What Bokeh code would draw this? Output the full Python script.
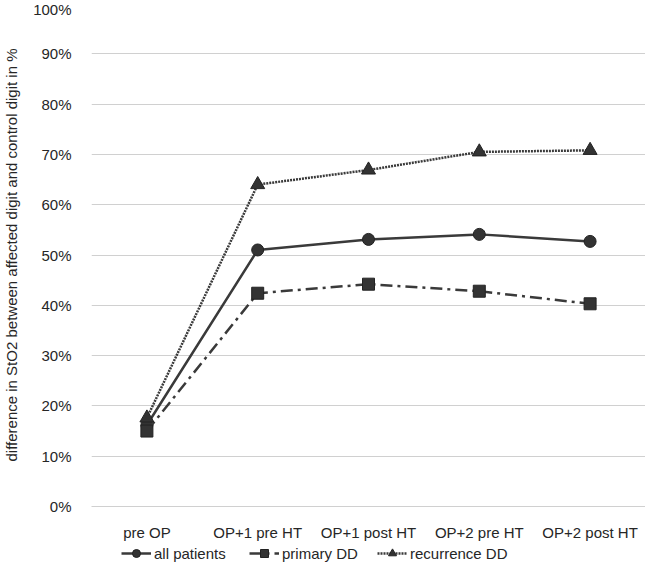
from bokeh.plotting import figure
from bokeh.layouts import column
from bokeh.models import FactorRange, Range1d, PrintfTickFormatter, Legend, LegendItem, FixedTicker
from bokeh.embed import file_html
from bokeh.resources import INLINE

categories = ["pre OP", "OP+1 pre HT", "OP+1 post HT", "OP+2 pre HT", "OP+2 post HT"]
all_patients = [16.2, 51.0, 53.1, 54.1, 52.7]
primary_dd = [15.0, 42.4, 44.2, 42.8, 40.3]
recurrence_dd = [17.6, 64.0, 66.9, 70.5, 70.8]
y_ticks = [0, 10, 20, 30, 40, 50, 60, 70, 80, 90, 100]
series_names = ["all patients", "primary DD", "recurrence DD"]

FONT = "Liberation Sans"
TXT = "#262626"
LINE = "#3a3a3a"
FILL = "#333333"
MLINE = "#222222"

styles = [
    dict(dash="solid", marker="circle", size=12),
    dict(dash="12 5 3 5", marker="square", size=12),
    dict(dash="2 1", marker="triangle", size=14),
]
series = [all_patients, primary_dd, recurrence_dd]

p = figure(width=645, height=543, x_range=FactorRange(*categories), y_range=Range1d(0, 100),
           output_backend="svg", toolbar_location=None,
           min_border_left=82, min_border_right=0, min_border_top=3, min_border_bottom=30)
p.outline_line_color = None
p.xgrid.grid_line_color = None
p.ygrid.grid_line_color = "#d0d0d0"
p.ygrid.grid_line_width = 1

p.yaxis.ticker = FixedTicker(ticks=y_ticks)
p.yaxis.formatter = PrintfTickFormatter(format="%d%%")
p.yaxis.axis_line_color = None
p.yaxis.major_tick_line_color = None
p.yaxis.minor_tick_line_color = None
p.yaxis.major_label_standoff = 14
p.yaxis.axis_label = "difference in StO2 between affected digit and control digit in %"
p.yaxis.axis_label_standoff = 10
p.yaxis.axis_label_text_font = FONT
p.yaxis.axis_label_text_font_size = "15px"
p.yaxis.axis_label_text_font_style = "normal"
p.yaxis.axis_label_text_color = TXT

p.xaxis.axis_line_color = "#d0d0d0"
p.xaxis.major_tick_line_color = None
p.xaxis.minor_tick_line_color = None
p.xaxis.major_label_standoff = 11

for ax in (p.xaxis, p.yaxis):
    ax.major_label_text_font = FONT
    ax.major_label_text_font_size = "15px"
    ax.major_label_text_color = TXT

for vals, st in zip(series, styles):
    p.line(categories, vals, line_color=LINE, line_width=2.5, line_dash=st["dash"])
    p.scatter(categories, vals, marker=st["marker"], size=st["size"], fill_color=FILL, line_color=MLINE)

# legend strip: its own small figure (same series drawn off-range, only the legend shows)
q = figure(width=645, height=20, x_range=FactorRange(*categories), y_range=Range1d(-1000, -999),
           output_backend="svg", toolbar_location=None,
           min_border_left=82, min_border_right=0, min_border_top=0, min_border_bottom=0)
q.axis.visible = False
q.grid.visible = False
q.outline_line_color = None

items = []
for name, vals, st in zip(series_names, series, styles):
    lr = q.line(categories, vals, line_color=LINE, line_width=2.5, line_dash=st["dash"])
    sr = q.scatter(categories, vals, marker=st["marker"], size=st["size"], fill_color=FILL, line_color=MLINE)
    items.append(LegendItem(label=name, renderers=[lr, sr]))

legend = Legend(items=items, orientation="horizontal", location=(30, 0))
legend.border_line_color = None
legend.background_fill_alpha = 0
legend.label_text_font = FONT
legend.label_text_font_size = "15px"
legend.label_text_color = TXT
legend.glyph_width = 30
legend.glyph_height = 20
legend.spacing = 0
legend.label_width = 95
legend.label_standoff = 3
legend.padding = 0
legend.margin = 0
q.add_layout(legend)

open("out.html", "w").write(file_html(column(p, q, spacing=0), INLINE))
